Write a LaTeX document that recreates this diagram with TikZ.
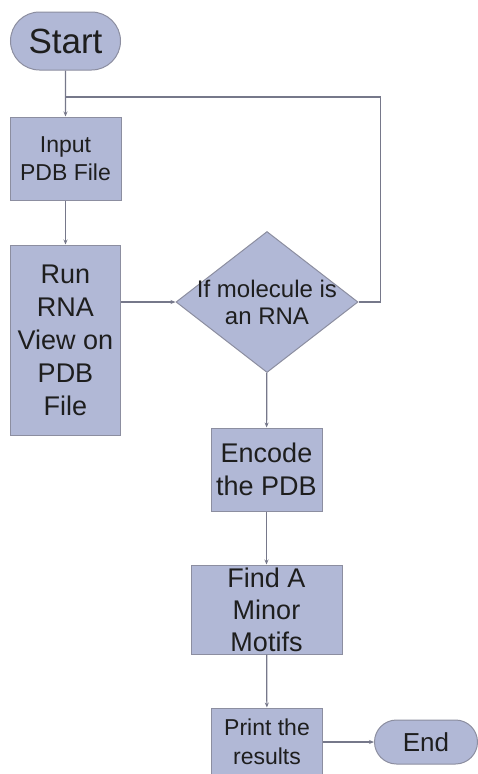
\documentclass[tikz,border=0pt]{standalone}
\usepackage{fontspec}
\setmainfont{Liberation Sans}
\usetikzlibrary{arrows.meta,shapes.geometric,shapes.misc}
\definecolor{boxfill}{RGB}{177,184,214}
\definecolor{boxline}{RGB}{140,142,160}
\definecolor{flowline}{RGB}{118,120,138}
\definecolor{boxtext}{RGB}{30,30,30}

\begin{document}
\begin{tikzpicture}[x=1pt,y=-1pt,
    box/.style={draw=boxline, fill=boxfill, line width=1pt, inner sep=0pt, align=center, text=boxtext},
    terminal/.style={box, rounded rectangle},
    decision/.style={box, diamond},
    flow/.style={draw=flowline, line width=1.2pt, -{Stealth[length=5pt,width=4pt]}},
    loopback/.style={draw=flowline, line width=1.2pt}]
    \useasboundingbox (0,0) rectangle (477,774);
    %%%%% NODES %%%%%
    \node[terminal, minimum width=110pt, minimum height=58pt, font=\fontsize{35}{40}\selectfont] (start) at (65.5,41) {Start};
    \node[box, minimum width=111pt, minimum height=83pt, font=\fontsize{23}{28}\selectfont] (input) at (65.5,158.5) {Input\\PDB File};
    \node[box, minimum width=110pt, minimum height=190pt, font=\fontsize{27}{33}\selectfont] (run) at (65.5,340) {Run\\RNA\\View on\\PDB\\File};
    \node[decision, minimum width=182pt, minimum height=141pt,
      label={[text=boxtext, align=center, font=\fontsize{24}{27}\selectfont]center:{If molecule is\\an RNA}}] (rna) at (267,302) {};
    \node[box, minimum width=111pt, minimum height=83pt, font=\fontsize{27}{33}\selectfont] (encode) at (266.5,469.5) {Encode\\the PDB};
    \node[box, minimum width=151pt, minimum height=89pt, font=\fontsize{27}{32}\selectfont] (find) at (266.5,609.5) {Find A\\Minor\\Motifs};
    \node[box, minimum width=111pt, minimum height=68pt, font=\fontsize{23}{29}\selectfont] (print) at (267,742) {Print the\\results};
    \node[terminal, minimum width=103pt, minimum height=44pt, font=\fontsize{26}{30}\selectfont] (end) at (426,742) {End};
    \coordinate (merge) at (65.5,97);

    %%%%% CONNECTORS %%%%%
    \draw[flow] (start) -- (input);
    \draw[flow] (input) -- (run);
    \draw[flow] (run.east |- rna.west) -- (rna.west);
    \draw[loopback] (rna.east) -- ++(22,0) |- (merge);
    \draw[flow] (rna) -- (encode);
    \draw[flow] (encode) -- (find);
    \draw[flow] (find) -- (print);
    \draw[flow] (print) -- (end);
\end{tikzpicture}
\end{document}
